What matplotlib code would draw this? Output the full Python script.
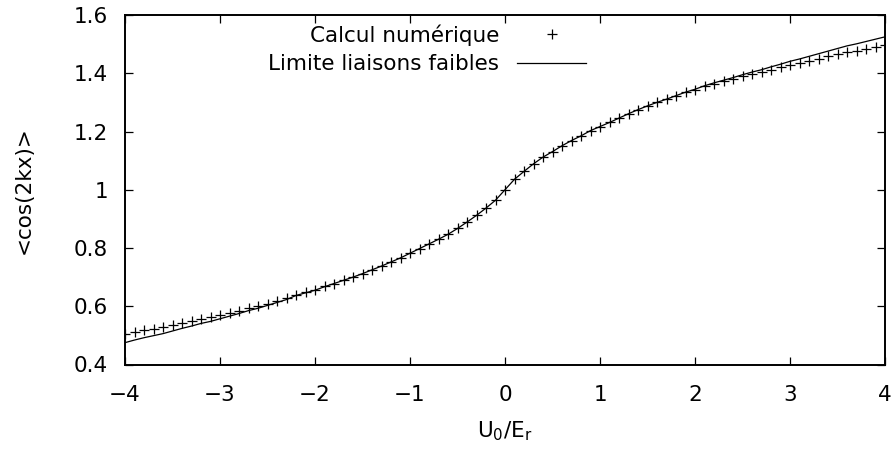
"""<cos(2kx)> versus U0/Er: numerical calculation vs weak binding limit"""
import numpy as np
from matplotlib import pyplot as plt
from matplotlib.ticker import FormatStrFormatter

plt.rcParams['font.family'] = ['DejaVu Sans']
plt.rcParams['mathtext.default'] = 'regular'

# potential depth U0/Er (sampling grid of the numerical calculation)
u0 = [-4.0, -3.9, -3.8, -3.7, -3.6, -3.5, -3.4, -3.3, -3.2, -3.1,
      -3.0, -2.9, -2.8, -2.7, -2.6, -2.5, -2.4, -2.3, -2.2, -2.1,
      -2.0, -1.9, -1.8, -1.7, -1.6, -1.5, -1.4, -1.3, -1.2, -1.1,
      -1.0, -0.9, -0.8, -0.7, -0.6, -0.5, -0.4, -0.3, -0.2, -0.1,
      0.0, 0.1, 0.2, 0.3, 0.4, 0.5, 0.6, 0.7, 0.8, 0.9,
      1.0, 1.1, 1.2, 1.3, 1.4, 1.5, 1.6, 1.7, 1.8, 1.9,
      2.0, 2.1, 2.2, 2.3, 2.4, 2.5, 2.6, 2.7, 2.8, 2.9,
      3.0, 3.1, 3.2, 3.3, 3.4, 3.5, 3.6, 3.7, 3.8, 3.9, 4.0]

# numerical result (+ markers)
numerique = [0.504, 0.511, 0.517, 0.523, 0.528, 0.535, 0.542, 0.549, 0.556, 0.562,
             0.570, 0.577, 0.585, 0.593, 0.600, 0.609, 0.618, 0.627, 0.640, 0.648,
             0.657, 0.668, 0.678, 0.689, 0.700, 0.712, 0.725, 0.738, 0.752, 0.766,
             0.782, 0.798, 0.814, 0.830, 0.847, 0.867, 0.889, 0.912, 0.937, 0.964,
             1.000, 1.036, 1.063, 1.089, 1.112, 1.131, 1.151, 1.169, 1.185, 1.203,
             1.217, 1.231, 1.246, 1.261, 1.275, 1.288, 1.300, 1.311, 1.323, 1.334,
             1.343, 1.355, 1.364, 1.372, 1.380, 1.389, 1.397, 1.404, 1.412, 1.420,
             1.428, 1.435, 1.443, 1.450, 1.458, 1.465, 1.472, 1.477, 1.484, 1.490, 1.496]

# weak binding limit (solid line)
faibles = [0.475, 0.484, 0.492, 0.499, 0.506, 0.515, 0.524, 0.532, 0.541, 0.548,
           0.557, 0.566, 0.575, 0.585, 0.593, 0.603, 0.613, 0.623, 0.637, 0.646,
           0.655, 0.667, 0.678, 0.689, 0.700, 0.712, 0.725, 0.738, 0.752, 0.766,
           0.782, 0.798, 0.814, 0.830, 0.847, 0.867, 0.889, 0.912, 0.937, 0.964,
           1.000, 1.036, 1.063, 1.089, 1.112, 1.131, 1.151, 1.169, 1.185, 1.203,
           1.217, 1.231, 1.246, 1.261, 1.275, 1.288, 1.300, 1.311, 1.323, 1.335,
           1.345, 1.357, 1.367, 1.376, 1.385, 1.395, 1.404, 1.412, 1.422, 1.431,
           1.441, 1.449, 1.458, 1.467, 1.476, 1.485, 1.494, 1.501, 1.509, 1.517, 1.525]

xticks = [-4, -3, -2, -1, 0, 1, 2, 3, 4]
yticks = [0.4, 0.6, 0.8, 1.0, 1.2, 1.4, 1.6]

fs = 15.5
W, H = 896, 449
fig = plt.figure(figsize=(W / 100, H / 100), dpi=100)
ax = fig.add_axes([125 / W, 1 - 364.5 / H, 760 / W, 349.5 / H])

ax.plot(u0, numerique, linestyle='none', marker='+', markersize=6.5,
        markeredgewidth=0.9, color='black', label='Calcul numérique')
ax.plot(u0, faibles, color='black', linewidth=0.9, label='Limite liaisons faibles')

ax.set_xlim(-4, 4)
ax.set_ylim(0.4, 1.6)
ax.set_xticks(xticks)
ax.set_yticks(yticks)
ax.yaxis.set_major_formatter(FormatStrFormatter('%g'))
ax.tick_params(direction='in', top=True, right=True, length=6, width=0.9,
               labelsize=fs)
ax.tick_params(axis='x', pad=14.5)
ax.tick_params(axis='y', pad=12)
for sp in ax.spines.values():
    sp.set_linewidth(1.4)

ax.set_xlabel(r'U$_0$/E$_r$', fontsize=fs)
ax.xaxis.set_label_coords(0.5, -0.158)
ax.set_ylabel('<cos(2kx)>', fontsize=fs)
ax.yaxis.set_label_coords(-0.1205, 0.5)

ax.legend(loc='upper right', bbox_to_anchor=(586 / W, 1 - 24 / H),
          bbox_transform=fig.transFigure, frameon=False, markerfirst=False,
          handlelength=3.2, handletextpad=0.84, labelspacing=0.4,
          borderpad=0, borderaxespad=0, fontsize=fs)

plt.savefig('out.png', dpi=100)
